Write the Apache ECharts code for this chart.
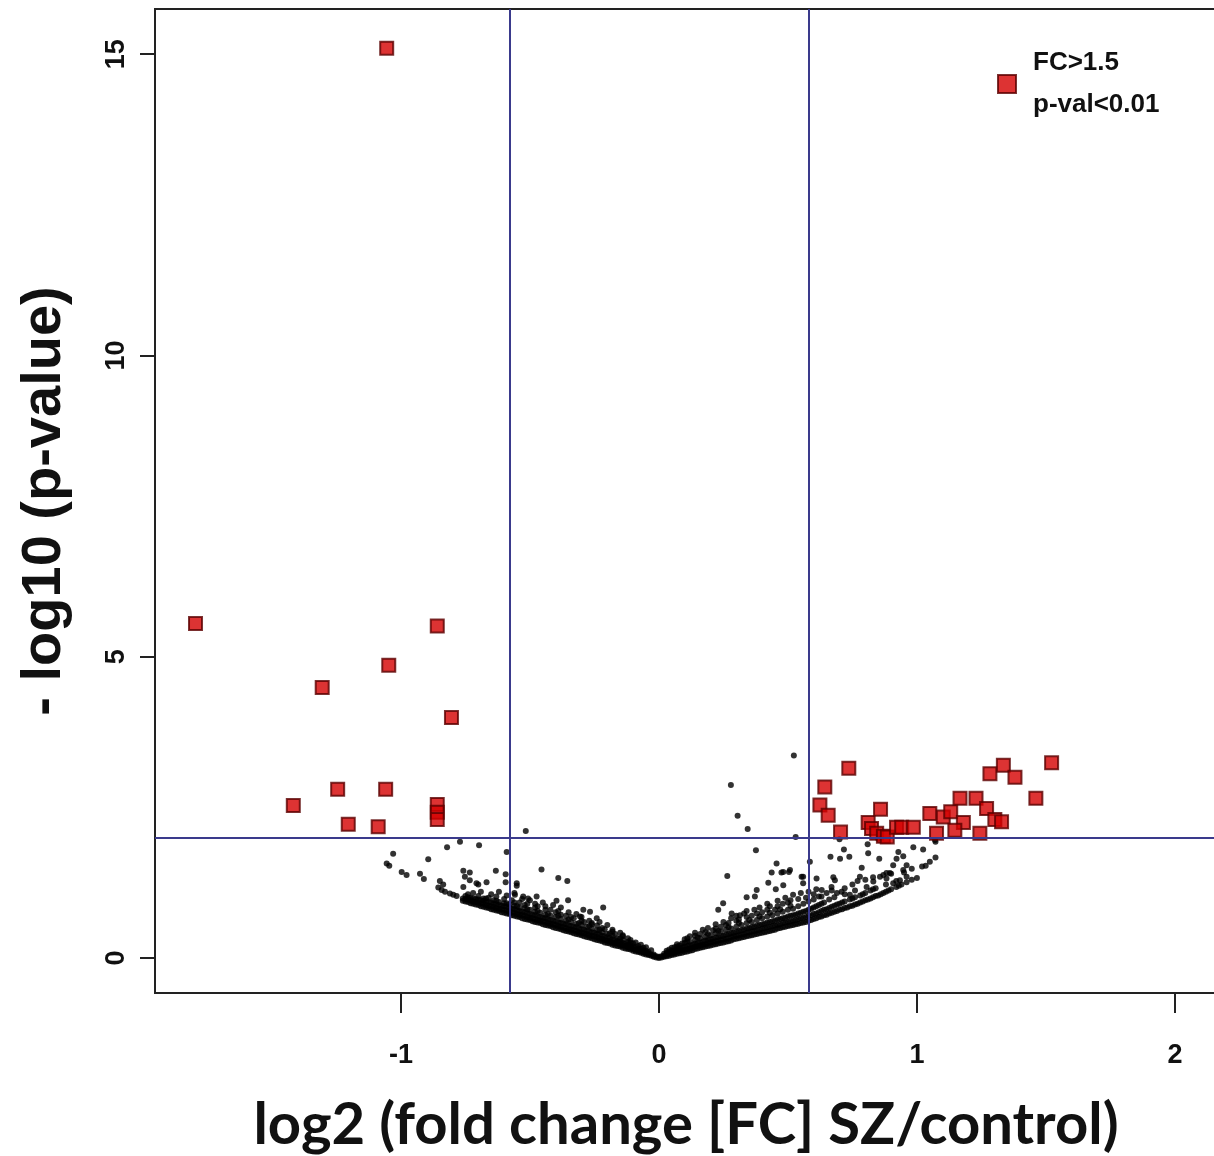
<!DOCTYPE html>
<html><head><meta charset="utf-8">
<script src="https://cdn.jsdelivr.net/npm/echarts@6/dist/echarts.min.js"></script>
<style>html,body{margin:0;padding:0;background:#fff}#c{width:1214px;height:1156px}</style>
</head><body><div id="c"></div>
<script>
// ---- axis ticks / thresholds ----
const xTicks = [-1, 0, 1, 2];
const yTicks = [0, 5, 10, 15];
const fcThresholds = [-0.585, 0.585];
const pThreshold = 2;
const xTitle = 'log2 (fold change [FC] SZ/control)';
const yTitle = '- log10 (p-value)';
const sigName = 'FC>1.5\np-val<0.01';

// ---- significant genes (red squares): [log2FC, -log10 p] ----
const sigPoints = [
  [-1.055,15.10],
  [-1.796,5.55],[-0.859,5.51],[-1.047,4.86],[-1.305,4.49],[-0.804,3.99],
  [-1.245,2.80],[-1.059,2.80],[-1.417,2.53],[-0.859,2.55],[-0.859,2.42],[-0.859,2.30],
  [-1.204,2.22],[-1.088,2.18],
  [0.736,3.15],[0.643,2.84],[0.624,2.54],[0.656,2.37],[0.704,2.09],[0.811,2.25],
  [0.824,2.15],[0.844,2.07],[0.870,2.02],[0.885,2.01],[0.859,2.47],[0.921,2.17],
  [0.941,2.17],[0.986,2.17],[1.050,2.40],[1.076,2.07],[1.102,2.34],[1.131,2.43],
  [1.167,2.65],[1.180,2.25],[1.147,2.12],[1.229,2.65],[1.270,2.48],[1.244,2.07],
  [1.302,2.30],[1.328,2.26],[1.283,3.06],[1.335,3.20],[1.380,3.00],[1.461,2.65],[1.522,3.24]
];

// ---- non-significant genes, scattered ones: [log2FC, -log10 p] ----
const scatterLeft = [
  [-0.771,1.93],[-0.697,1.87],[-0.821,1.84],[-1.030,1.73],[-1.055,1.57],[-1.045,1.53],
  [-0.894,1.64],[-0.590,1.76],[-0.997,1.43],[-0.978,1.38],[-0.926,1.40],[-0.911,1.31],
  [-0.849,1.28],[-0.855,1.17],[-0.842,1.13],[-0.829,1.10],[-0.810,1.07],[-0.797,1.05],
  [-0.784,1.03],[-0.758,1.45],[-0.733,1.42],[-0.752,1.35],[-0.733,1.29],[-0.758,1.18],
  [-0.707,1.24],[-0.668,1.26],[-0.700,1.22],[-0.632,1.45],[-0.594,1.39],[-0.594,1.26],
  [-0.551,1.24],[-0.551,1.20],[-0.455,1.47],[-0.390,1.33],[-0.355,1.28],[-0.474,1.02],
  [-0.507,0.99],[-0.397,0.95],[-0.352,0.96],[-0.216,0.84],[-0.526,1.02],[-0.558,1.05],
  [-0.516,2.11],[-0.293,0.80],[-0.267,0.77],[-0.306,0.69],[-0.241,0.66],[-0.836,1.22]
];
const scatterRight = [
  [0.523,3.36],[0.279,2.87],[0.305,2.36],[0.344,2.14],[0.530,2.01],[0.376,1.79],
  [0.265,1.36],[0.456,1.57],[0.437,1.42],[0.475,1.42],[0.504,1.43],[0.424,1.25],
  [0.453,1.14],[0.482,1.21],[0.559,1.35],[0.559,1.24],[0.585,1.60],[0.379,1.13],
  [0.372,1.02],[0.340,1.01],[0.249,0.91],[0.230,0.80],[0.282,0.74],[0.314,0.71],
  [0.665,1.68],[0.702,1.65],[0.738,1.68],[0.717,1.80],[0.811,1.74],[0.854,1.65],
  [0.809,1.89],[0.786,1.50],[0.779,1.35],[0.676,1.34],[0.682,1.29],[0.631,1.13],
  [0.669,1.18],[0.708,1.10],[0.740,1.05],[0.921,1.65],[0.947,1.69],[0.908,1.54],
  [0.960,1.54],[0.947,1.46],[0.986,1.84],[1.024,1.80],[1.034,1.53],[1.072,1.67],
  [1.072,1.93],[0.882,1.41],[0.857,1.35],[0.831,1.27],[0.805,1.18],[0.960,1.35],
  [0.934,1.29],[0.908,1.24],[0.928,1.76],[0.895,1.41],[0.882,1.32],[0.611,1.32],
  [0.553,1.35],[0.508,1.46],[0.482,1.43],[0.70,1.97],[0.85,1.98],[1.07,1.96]
];
// looser points just above the dense band
const cloudLeft = [
  [-0.74,1.06],[-0.72,1.08],[-0.70,1.03],[-0.69,1.10],[-0.66,1.00],[-0.65,1.06],[-0.63,1.02],
  [-0.62,1.10],[-0.60,0.98],[-0.59,1.04],[-0.57,0.96],[-0.56,1.08],[-0.54,0.92],[-0.53,0.98],
  [-0.51,0.90],[-0.50,0.96],[-0.48,0.90],[-0.47,0.86],[-0.45,0.92],[-0.44,0.86],[-0.42,0.80],
  [-0.41,0.88],[-0.39,0.78],[-0.38,0.84],[-0.36,0.70],[-0.35,0.76],[-0.33,0.66],[-0.32,0.73],
  [-0.30,0.68],[-0.29,0.60],[-0.27,0.62],[-0.26,0.58],[-0.24,0.54],[-0.23,0.60],[-0.21,0.48],
  [-0.20,0.55],[-0.18,0.47],[-0.17,0.40],[-0.15,0.42],[-0.14,0.38],[-0.12,0.33],[-0.11,0.30],
  [-0.09,0.26],[-0.07,0.22],[-0.05,0.18],[-0.03,0.13]
];
const cloudRight = [
  [0.03,0.12],[0.05,0.17],[0.07,0.23],[0.09,0.24],[0.11,0.33],[0.12,0.36],[0.14,0.42],
  [0.16,0.40],[0.17,0.47],[0.19,0.50],[0.21,0.46],[0.22,0.56],[0.24,0.52],[0.25,0.60],
  [0.27,0.58],[0.28,0.66],[0.30,0.70],[0.31,0.64],[0.33,0.74],[0.34,0.78],[0.36,0.70],
  [0.37,0.80],[0.39,0.84],[0.40,0.76],[0.42,0.90],[0.43,0.86],[0.45,0.80],[0.46,0.95],
  [0.48,0.90],[0.49,1.00],[0.51,0.96],[0.52,1.05],[0.54,0.98],[0.55,1.08],[0.57,1.00],
  [0.58,1.10],[0.60,1.06],[0.61,1.14],[0.63,1.02],[0.65,1.08],[0.67,1.12],[0.69,1.08],
  [0.72,1.16],[0.75,1.22],[0.77,1.28],[0.80,1.30],[0.83,1.34],[0.87,1.38],[0.90,1.40],
  [0.95,1.42],[0.98,1.48],[1.02,1.52],[1.05,1.60]
];

// ---- dense band of non-significant genes: x positions and the y values read at each ----
const bandX = [
  -0.76,-0.74,-0.72,-0.70,-0.68,-0.66,-0.64,-0.62,-0.60,-0.58,-0.56,-0.54,-0.52,-0.50,
  -0.48,-0.46,-0.44,-0.42,-0.40,-0.38,-0.36,-0.34,-0.32,-0.30,-0.28,-0.26,-0.24,-0.22,
  -0.20,-0.18,-0.16,-0.14,-0.12,-0.10,-0.08,-0.06,-0.04,-0.02,0.00,
  0.02,0.04,0.06,0.08,0.10,0.12,0.14,0.16,0.18,0.20,0.22,0.24,0.26,0.28,0.30,0.32,0.34,
  0.36,0.38,0.40,0.42,0.44,0.46,0.48,0.50,0.52,0.54,0.56,0.58,0.60,0.62,0.64,0.66,0.68,
  0.70,0.72,0.74,0.76,0.78,0.80,0.82,0.84,0.86,0.88,0.90,0.92,0.94,0.96,1.00
];
const bandY = [
  [0.95,0.99],[0.93,0.97,1.01],[0.90,0.94,0.99],[0.88,0.92,0.97],[0.85,0.90,0.95,0.99],
  [0.83,0.87,0.93],[0.80,0.85,0.90,0.96],[0.78,0.82,0.88,0.93],[0.75,0.80,0.86,0.91],
  [0.73,0.77,0.83,0.89],[0.70,0.75,0.81,0.87,0.92],[0.68,0.72,0.78,0.84],
  [0.65,0.70,0.76,0.83,0.88],[0.63,0.67,0.73,0.80],[0.60,0.65,0.71,0.77,0.84],
  [0.58,0.62,0.68,0.75],[0.55,0.60,0.66,0.72,0.80],[0.53,0.57,0.63,0.70],
  [0.50,0.55,0.61,0.68,0.76],[0.48,0.52,0.58,0.65,0.72],[0.45,0.50,0.56,0.62],
  [0.43,0.47,0.53,0.60,0.68],[0.40,0.45,0.51,0.57],[0.38,0.42,0.48,0.55,0.62],
  [0.35,0.40,0.45,0.52],[0.33,0.37,0.43,0.49,0.56],[0.30,0.35,0.40,0.46],
  [0.28,0.32,0.37,0.43,0.50],[0.25,0.29,0.34,0.40],[0.22,0.26,0.31,0.37,0.44],
  [0.20,0.24,0.28,0.33],[0.17,0.21,0.25,0.30,0.36],[0.15,0.18,0.22,0.27],
  [0.12,0.15,0.19,0.24],[0.10,0.13,0.16,0.20],[0.07,0.10,0.13,0.17],[0.05,0.07,0.10],
  [0.02,0.04,0.06],[0.00,0.02],
  [0.02,0.04,0.07],[0.04,0.07,0.10,0.14],[0.06,0.09,0.13,0.18],[0.08,0.12,0.16,0.21],
  [0.10,0.14,0.19,0.25,0.31],[0.12,0.16,0.21,0.27],[0.15,0.19,0.24,0.30,0.37],
  [0.17,0.21,0.26,0.33],[0.19,0.23,0.29,0.35,0.43],[0.21,0.26,0.31,0.38],
  [0.23,0.28,0.34,0.41,0.49],[0.25,0.30,0.36,0.44],[0.27,0.32,0.39,0.47,0.55],
  [0.29,0.35,0.41,0.49],[0.32,0.37,0.44,0.52,0.62],[0.34,0.39,0.46,0.55],
  [0.36,0.42,0.49,0.58,0.68],[0.38,0.44,0.51,0.60],[0.40,0.46,0.54,0.63,0.74],
  [0.42,0.49,0.56,0.66],[0.44,0.51,0.59,0.69,0.80],[0.46,0.53,0.61,0.71],
  [0.49,0.55,0.64,0.74,0.86],[0.51,0.58,0.66,0.77],[0.53,0.60,0.69,0.80,0.92],
  [0.55,0.62,0.71,0.82],[0.57,0.65,0.74,0.86],[0.59,0.67,0.77,0.90],[0.62,0.70,0.80,0.94],
  [0.65,0.73,0.84,0.97],[0.68,0.76,0.88,1.02],[0.71,0.80,0.92],[0.74,0.83,0.97],
  [0.77,0.87,1.01],[0.80,0.90],[0.83,0.94,1.06],[0.86,0.97],[0.89,1.01,1.12],[0.92,1.04],
  [0.96,1.08],[0.99,1.12],[1.03,1.16],[1.06],[1.10,1.22],[1.14],[1.18,1.28],[1.22],[1.26],[1.33]
];
// in-between columns of the same band
const bandX2 = [
  -0.75,-0.73,-0.71,-0.69,-0.67,-0.65,-0.63,-0.61,-0.59,-0.57,-0.55,-0.53,-0.51,-0.49,
  -0.47,-0.45,-0.43,-0.41,-0.39,-0.37,-0.35,-0.33,-0.31,-0.29,-0.27,-0.25,-0.23,-0.21,
  -0.19,-0.17,-0.15,-0.13,-0.11,-0.09,-0.07,-0.05,-0.03,-0.01,
  0.01,0.03,0.05,0.07,0.09,0.11,0.13,0.15,0.17,0.19,0.21,0.23,0.25,0.27,0.29,0.31,0.33,
  0.35,0.37,0.39,0.41,0.43,0.45,0.47,0.49,0.51,0.53,0.55,0.57,0.59,0.61,0.63,0.65,0.67,
  0.69,0.71,0.73,0.75,0.77,0.79,0.81,0.83,0.85,0.87,0.89,0.93,0.98
];
const bandY2 = [
  [0.94,0.98,1.03],[0.91,0.96,1.00],[0.89,0.93,0.98],[0.86,0.91,0.96],[0.84,0.88,0.94,0.99],
  [0.81,0.86,0.92],[0.79,0.83,0.89,0.95],[0.76,0.81,0.87],[0.74,0.79,0.85,0.91],
  [0.71,0.76,0.82],[0.69,0.73,0.79,0.86],[0.66,0.71,0.77],[0.64,0.68,0.74,0.81],
  [0.61,0.66,0.72],[0.59,0.63,0.69,0.78],[0.56,0.61,0.67],[0.54,0.58,0.64,0.73],
  [0.51,0.56,0.62],[0.49,0.53,0.59,0.70],[0.46,0.51,0.57],[0.44,0.48,0.54,0.64],
  [0.41,0.46,0.52],[0.39,0.43,0.49,0.58],[0.36,0.41,0.47],[0.34,0.38,0.44,0.53],
  [0.31,0.36,0.42],[0.29,0.33,0.39,0.47],[0.26,0.30,0.36],[0.24,0.28,0.33,0.41],
  [0.21,0.25,0.30],[0.19,0.22,0.27,0.33],[0.16,0.20,0.24],[0.14,0.17,0.21,0.26],
  [0.11,0.14,0.18],[0.09,0.11,0.15],[0.06,0.09,0.12],[0.04,0.06],[0.01,0.03],
  [0.01,0.03],[0.03,0.06,0.09],[0.05,0.08,0.12],[0.07,0.11,0.15,0.19],[0.09,0.13,0.17],
  [0.11,0.15,0.20,0.28],[0.13,0.17,0.22],[0.16,0.20,0.25,0.34],[0.18,0.22,0.27],
  [0.20,0.25,0.30,0.40],[0.22,0.27,0.32],[0.24,0.29,0.35,0.45],[0.26,0.31,0.37],
  [0.28,0.33,0.40,0.51],[0.31,0.36,0.42],[0.33,0.38,0.45,0.58],[0.35,0.40,0.47],
  [0.37,0.43,0.50,0.63],[0.39,0.45,0.52],[0.41,0.47,0.55,0.69],[0.43,0.50,0.57],
  [0.45,0.52,0.60,0.75],[0.47,0.54,0.62],[0.50,0.56,0.65,0.81],[0.52,0.59,0.67],
  [0.54,0.61,0.70,0.87],[0.56,0.63,0.72],[0.58,0.66,0.75],[0.60,0.68,0.78],
  [0.63,0.71,0.82],[0.66,0.74,0.86],[0.69,0.78,0.90],[0.72,0.81],[0.75,0.85],
  [0.78,0.89],[0.81,0.92],[0.84],[0.87,0.99],[0.90],[0.94,1.06],[0.97],[1.01,1.14],
  [1.04],[1.08],[1.12],[1.20],[1.30]
];

const bandPoints = [];
bandX.forEach((x, i) => bandY[i].forEach(y => bandPoints.push([x, y])));
bandX2.forEach((x, i) => bandY2[i].forEach(y => bandPoints.push([x, y])));
const nsPoints = bandPoints.concat(cloudLeft, cloudRight, scatterLeft, scatterRight);

const chart = echarts.init(document.getElementById('c'), null, {renderer: 'canvas'});
const tickFont = {fontFamily: 'Liberation Sans, Arial, sans-serif', fontWeight: 'bold', fontSize: 27, color: '#111'};
const lineColor = '#3a3a8c';

chart.setOption({
  animation: false,
  backgroundColor: '#ffffff',
  grid: {
    left: 155, right: -3, top: 9, bottom: 163,
    outerBoundsMode: 'none', containLabel: false,
    show: true, borderColor: '#222', borderWidth: 2, backgroundColor: '#ffffff'
  },
  legend: {
    data: [{name: sigName}],
    left: 992, top: 37,
    icon: 'rect', itemWidth: 18, itemHeight: 18, itemGap: 10,
    textStyle: {
      fontFamily: 'Liberation Sans, Arial, sans-serif', fontWeight: 'bold',
      fontSize: 26, lineHeight: 42, color: '#111', padding: [0, 0, 0, 12]
    }
  },
  xAxis: {
    type: 'value', min: -1.953, max: 2.163,
    splitLine: {show: false},
    axisLine: {show: false, onZero: false},
    axisTick: {show: true, customValues: xTicks, length: 20, lineStyle: {color: '#222', width: 2}},
    axisLabel: Object.assign({customValues: xTicks, margin: 49, formatter: v => String(v)}, tickFont),
    name: xTitle, nameLocation: 'middle', nameGap: 103,
    nameTextStyle: {fontFamily: 'Lato, Carlito, sans-serif', fontWeight: 'bold', fontSize: 58, color: '#111'}
  },
  yAxis: {
    type: 'value', min: -0.58, max: 15.75,
    splitLine: {show: false},
    axisLine: {show: false, onZero: false},
    axisTick: {show: true, customValues: yTicks, length: 15, lineStyle: {color: '#222', width: 2}},
    axisLabel: Object.assign({customValues: yTicks, rotate: 90, margin: 25, formatter: v => String(v)}, tickFont),
    name: yTitle, nameLocation: 'middle', nameRotate: 90, nameGap: 82,
    nameTextStyle: {fontFamily: 'Liberation Sans, Arial, sans-serif', fontWeight: 'bold', fontSize: 56, color: '#111'}
  },
  series: [
    {
      name: 'ns', type: 'scatter', data: nsPoints, symbol: 'circle', symbolSize: 6,
      itemStyle: {color: '#000'}, silent: true,
      markLine: {
        silent: true, symbol: ['none', 'none'], label: {show: false},
        lineStyle: {color: lineColor, width: 2, type: 'solid'},
        data: [{xAxis: fcThresholds[0]}, {xAxis: fcThresholds[1]}, {yAxis: pThreshold}]
      },
      z: 2
    },
    {
      name: sigName, type: 'scatter', data: sigPoints, symbol: 'rect', symbolSize: 13,
      itemStyle: {color: '#d40000', borderColor: '#5a0000', borderWidth: 2},
      z: 3
    }
  ]
});
</script></body></html>
